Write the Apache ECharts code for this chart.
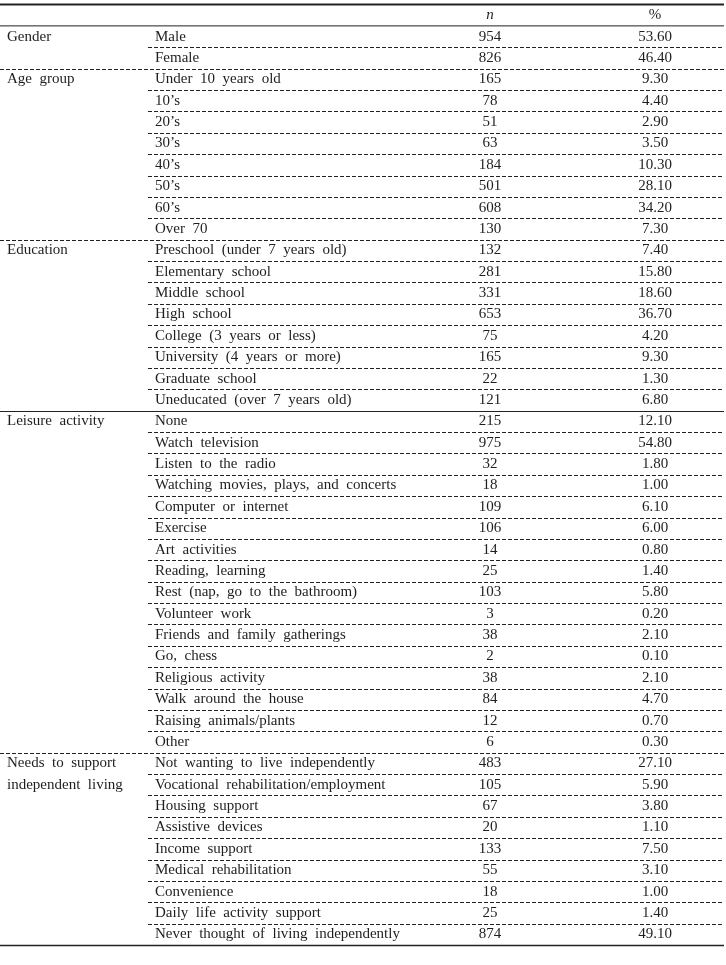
<!DOCTYPE html>
<html>
<head>
<meta charset="utf-8">
<script src="https://cdn.jsdelivr.net/npm/echarts@6/dist/echarts.min.js"></script>
<style>
  html, body { margin: 0; padding: 0; background: #fff; }
  #main { width: 726px; height: 965px; }
</style>
</head>
<body>
<div id="main"></div>
<script>
// table data
var headers = ['n', '%'];
var groupNames = ['Gender', 'Age group', 'Education', 'Leisure activity', 'Needs to support\nindependent living'];
var groupSizes = [2, 8, 8, 16, 9];
var categories = [
  'Male', 'Female',
  'Under 10 years old', '10\u2019s', '20\u2019s', '30\u2019s', '40\u2019s', '50\u2019s', '60\u2019s', 'Over 70',
  'Preschool (under 7 years old)', 'Elementary school', 'Middle school', 'High school',
  'College (3 years or less)', 'University (4 years or more)', 'Graduate school', 'Uneducated (over 7 years old)',
  'None', 'Watch television', 'Listen to the radio', 'Watching movies, plays, and concerts',
  'Computer or internet', 'Exercise', 'Art activities', 'Reading, learning',
  'Rest (nap, go to the bathroom)', 'Volunteer work', 'Friends and family gatherings', 'Go, chess',
  'Religious activity', 'Walk around the house', 'Raising animals/plants', 'Other',
  'Not wanting to live independently', 'Vocational rehabilitation/employment', 'Housing support',
  'Assistive devices', 'Income support', 'Medical rehabilitation', 'Convenience',
  'Daily life activity support', 'Never thought of living independently'
];
var nValues = [
  954, 826,
  165, 78, 51, 63, 184, 501, 608, 130,
  132, 281, 331, 653, 75, 165, 22, 121,
  215, 975, 32, 18, 109, 106, 14, 25, 103, 3, 38, 2, 38, 84, 12, 6,
  483, 105, 67, 20, 133, 55, 18, 25, 874
];
var pctValues = [
  53.6, 46.4,
  9.3, 4.4, 2.9, 3.5, 10.3, 28.1, 34.2, 7.3,
  7.4, 15.8, 18.6, 36.7, 4.2, 9.3, 1.3, 6.8,
  12.1, 54.8, 1.8, 1.0, 6.1, 6.0, 0.8, 1.4, 5.8, 0.2, 2.1, 0.1, 2.1, 4.7, 0.7, 0.3,
  27.1, 5.9, 3.8, 1.1, 7.5, 3.1, 1.0, 1.4, 49.1
];

// layout (x axis units = px)
var colGroupX = 7, colItemX = 155, colNX = 490, colPctX = 655;
var innerLineX = 148, lineEndX = 724;
var boundaryStyle = ['dash', 'dash', 'solid', 'dash', 'solid'];
var FONT = '"Liberation Serif", "DejaVu Serif", serif';
var TXT = '#1e1e1e';

// which group each row belongs to
var rowGroup = [], rowPos = [];
groupSizes.forEach(function (s, g) {
  for (var k = 0; k < s; k++) { rowGroup.push(g); rowPos.push(k); }
});

var rows = ['header'].concat(categories);
var seriesData = rows.map(function (r, i) { return [0, i]; });

var myChart = echarts.init(document.getElementById('main'));

// wide word gaps like the original typeface
function wide(s) { return s.replace(/ /g, '\u2002'); }

function txt(x, y, s, align, italic) {
  return {
    type: 'text',
    style: {
      x: x, y: y, text: s, fill: TXT,
      font: (italic ? 'italic ' : '') + '15px ' + FONT,
      align: align, verticalAlign: 'middle'
    }
  };
}
function line(x1, x2, y, w, dashed) {
  return {
    type: 'line',
    shape: { x1: x1, y1: y, x2: x2, y2: y },
    style: { stroke: '#222', lineWidth: w, lineDash: dashed ? [4, 2] : null }
  };
}

function renderItem(params, api) {
  var i = api.value(1);
  var c = api.coord([0, i]);
  var h = api.size([0, 1])[1];
  var yc = c[1], yTop = yc - h / 2, yBot = yc + h / 2;
  var xG = api.coord([colGroupX, i])[0];
  var xI = api.coord([colItemX, i])[0];
  var xN = api.coord([colNX, i])[0];
  var xP = api.coord([colPctX, i])[0];
  var x0 = api.coord([0, i])[0];
  var xIn = api.coord([innerLineX, i])[0];
  var xEnd = api.coord([lineEndX, i])[0];
  var kids = [];
  if (i === 0) {
    kids.push(line(x0, xEnd, yTop, 2, false));
    kids.push(txt(xN, yc, headers[0], 'center', true));
    kids.push(txt(xP, yc, headers[1], 'center', false));
    kids.push(line(x0, xEnd, yBot, 1, false));
    return { type: 'group', children: kids };
  }
  var r = i - 1;
  var g = rowGroup[r], k = rowPos[r];
  var gLines = groupNames[g].split('\n');
  if (k < gLines.length) kids.push(txt(xG, yc, wide(gLines[k]), 'left', false));
  kids.push(txt(xI, yc, wide(categories[r]), 'left', false));
  kids.push(txt(xN, yc, String(nValues[r]), 'center', false));
  kids.push(txt(xP, yc, pctValues[r].toFixed(2), 'center', false));
  if (k === groupSizes[g] - 1) {
    var last = g === groupNames.length - 1;
    var solid = boundaryStyle[g] === 'solid';
    kids.push(line(x0, xEnd, Math.round(yBot) + 0.5, last ? 1.5 : 1, !solid));
  } else {
    kids.push(line(xIn, xEnd, Math.round(yBot) + 0.5, 1, true));
  }
  return { type: 'group', children: kids };
}

myChart.setOption({
  animation: false,
  grid: { left: 0, right: 0, top: 4.5, bottom: 20 },
  xAxis: { type: 'value', min: 0, max: 726, show: false },
  yAxis: { type: 'category', data: rows, inverse: true, show: false },
  series: [{
    type: 'custom',
    renderItem: renderItem,
    data: seriesData,
    clip: false,
    silent: true
  }]
});
</script>
</body>
</html>
